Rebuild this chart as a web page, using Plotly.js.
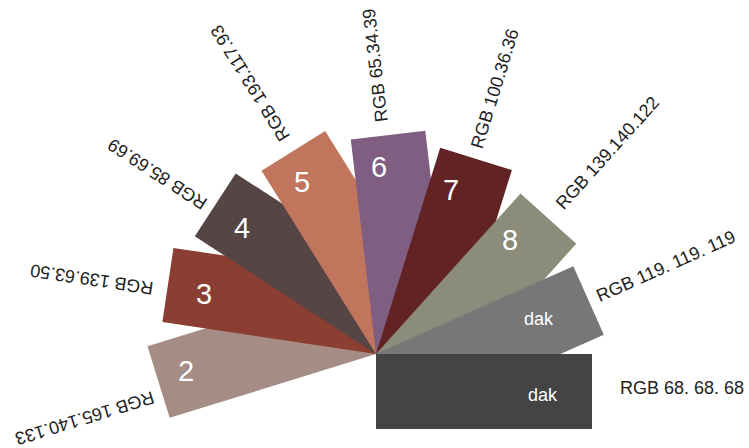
<!DOCTYPE html>
<html>
<head>
<meta charset="utf-8">
<script src="https://cdn.plot.ly/plotly-3.0.1.min.js"></script>
<style>html,body{margin:0;padding:0;background:#fff;}#chart{width:749px;height:448px;}</style>
</head>
<body>
<div id="chart"></div>
<script>
// ---- data (drawn bottom-most first) ----
const swatchLabels = ['2', '3', '4', '5', '6', '7', '8', 'dak', 'dak'];
const swatchColors = ['rgb(165,140,133)', 'rgb(139,63,50)', 'rgb(85,69,69)', 'rgb(193,117,93)',
                      'rgb(128,94,129)', 'rgb(98,35,36)', 'rgb(139,140,122)', 'rgb(119,119,119)', 'rgb(68,68,68)'];
const rgbLabels = ['RGB 165.140.133', 'RGB 139.63.50', 'RGB 85.69.69', 'RGB 193.117.93',
                   'RGB 65.34.39', 'RGB 100.36.36', 'RGB 139.140.122', 'RGB 119. 119. 119', 'RGB 68. 68. 68'];
const fanAngles = [197.2, 171.5, 147, 122, 96.7, 72.7, 48, 24, 0];

// ---- geometry / style (card-local coordinates: along the card, across it) ----
const CARD_LEN = 216, CARD_W = 75;
const FONT = '"Liberation Sans", Arial, sans-serif';
const OUT_SIZE = 18;
const innerPos = [[187, -40], [179, -34], [181, -33], [185, -28.5], [185.5, -24.5],
                  [179, -22.5], [174, -23], [163, -34], [167, -41]];
const outStart = [225, 230, 224, 230, 230, 227, 232, 226, 244];
const outAcross = [-25, -32, -32, -37, -33, -35, -38, -38, -34];

function rot(deg, a, b) {
  const t = deg * Math.PI / 180;
  return [a * Math.cos(t) - b * Math.sin(t), a * Math.sin(t) + b * Math.cos(t)];
}
const cv = document.createElement('canvas').getContext('2d');
function textW(s, size) {
  cv.font = size + 'px ' + FONT;
  const w = cv.measureText(s).width;
  return w > 0 ? w : s.length * size * 0.5;
}

const traces = [];
const annotations = [];
fanAngles.forEach((ang, i) => {
  const local = [[0, 0], [CARD_LEN, 0], [CARD_LEN, -CARD_W], [0, -CARD_W], [0, 0]];
  const pts = local.map(p => rot(ang, p[0], p[1]));
  traces.push({
    type: 'scatter', mode: 'lines', fill: 'toself',
    x: pts.map(p => p[0]), y: pts.map(p => p[1]),
    fillcolor: swatchColors[i], line: {width: 0, color: swatchColors[i]},
    hoverinfo: 'skip', showlegend: false
  });
  const isDigit = swatchLabels[i] !== 'dak';
  const inner = rot(ang, innerPos[i][0], innerPos[i][1]);
  annotations.push({
    x: inner[0], y: inner[1], xref: 'x', yref: 'y',
    text: swatchLabels[i], showarrow: false, xanchor: 'center', yanchor: 'middle',
    font: {family: FONT, size: isDigit ? 29 : 18, color: '#ffffff'}
  });
  const w = textW(rgbLabels[i], OUT_SIZE);
  const c = rot(ang, outStart[i] + w / 2, outAcross[i]);
  annotations.push({
    x: c[0], y: c[1], xref: 'x', yref: 'y',
    text: rgbLabels[i], showarrow: false, xanchor: 'center', yanchor: 'middle',
    textangle: -ang,
    font: {family: FONT, size: OUT_SIZE, color: '#222222'}
  });
});

const layout = {
  width: 749, height: 448,
  margin: {l: 0, r: 0, t: 0, b: 0},
  paper_bgcolor: '#ffffff', plot_bgcolor: '#ffffff',
  xaxis: {range: [-376, 373], visible: false, fixedrange: true},
  yaxis: {range: [-94, 354], visible: false, fixedrange: true},
  annotations: annotations,
  showlegend: false
};
Plotly.newPlot('chart', traces, layout, {displayModeBar: false, staticPlot: true});
</script>
</body>
</html>
